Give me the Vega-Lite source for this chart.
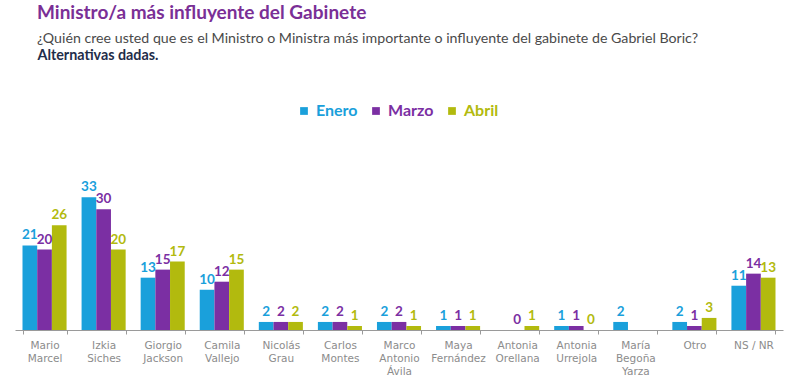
{
  "$schema": "https://vega.github.io/schema/vega-lite/v6.json",
  "width": 768,
  "height": 161,
  "autosize": {"type": "pad"},
  "padding": {"left": 15, "top": 3, "right": 2, "bottom": 4},
  "background": "white",
  "title": {
    "text": "Ministro/a más influyente del Gabinete",
    "subtitle": "¿Quién cree usted que es el Ministro o Ministra más importante o influyente del gabinete de Gabriel Boric?",
    "anchor": "start",
    "frame": "group",
    "dx": 22,
    "offset": 2,
    "font": "Lato",
    "fontSize": 19,
    "fontWeight": "bold",
    "color": "#7a2f96",
    "subtitleFont": "Lato",
    "subtitleFontSize": 14.2,
    "subtitleColor": "#4a4a4a",
    "subtitlePadding": 9
  },
  "data": {
    "values": [
      {"persona": "Mario|Marcel", "mes": "Enero", "pct": 21},
      {"persona": "Mario|Marcel", "mes": "Marzo", "pct": 20},
      {"persona": "Mario|Marcel", "mes": "Abril", "pct": 26},
      {"persona": "Izkia|Siches", "mes": "Enero", "pct": 33},
      {"persona": "Izkia|Siches", "mes": "Marzo", "pct": 30},
      {"persona": "Izkia|Siches", "mes": "Abril", "pct": 20},
      {"persona": "Giorgio|Jackson", "mes": "Enero", "pct": 13},
      {"persona": "Giorgio|Jackson", "mes": "Marzo", "pct": 15},
      {"persona": "Giorgio|Jackson", "mes": "Abril", "pct": 17},
      {"persona": "Camila|Vallejo", "mes": "Enero", "pct": 10},
      {"persona": "Camila|Vallejo", "mes": "Marzo", "pct": 12},
      {"persona": "Camila|Vallejo", "mes": "Abril", "pct": 15},
      {"persona": "Nicolás|Grau", "mes": "Enero", "pct": 2},
      {"persona": "Nicolás|Grau", "mes": "Marzo", "pct": 2},
      {"persona": "Nicolás|Grau", "mes": "Abril", "pct": 2},
      {"persona": "Carlos|Montes", "mes": "Enero", "pct": 2},
      {"persona": "Carlos|Montes", "mes": "Marzo", "pct": 2},
      {"persona": "Carlos|Montes", "mes": "Abril", "pct": 1},
      {"persona": "Marco|Antonio|Ávila", "mes": "Enero", "pct": 2},
      {"persona": "Marco|Antonio|Ávila", "mes": "Marzo", "pct": 2},
      {"persona": "Marco|Antonio|Ávila", "mes": "Abril", "pct": 1},
      {"persona": "Maya|Fernández", "mes": "Enero", "pct": 1},
      {"persona": "Maya|Fernández", "mes": "Marzo", "pct": 1},
      {"persona": "Maya|Fernández", "mes": "Abril", "pct": 1},
      {"persona": "Antonia|Orellana", "mes": "Enero", "pct": null},
      {"persona": "Antonia|Orellana", "mes": "Marzo", "pct": 0},
      {"persona": "Antonia|Orellana", "mes": "Abril", "pct": 1},
      {"persona": "Antonia|Urrejola", "mes": "Enero", "pct": 1},
      {"persona": "Antonia|Urrejola", "mes": "Marzo", "pct": 1},
      {"persona": "Antonia|Urrejola", "mes": "Abril", "pct": 0},
      {"persona": "María|Begoña|Yarza", "mes": "Enero", "pct": 2},
      {"persona": "María|Begoña|Yarza", "mes": "Marzo", "pct": null},
      {"persona": "María|Begoña|Yarza", "mes": "Abril", "pct": null},
      {"persona": "Otro", "mes": "Enero", "pct": 2},
      {"persona": "Otro", "mes": "Marzo", "pct": 1},
      {"persona": "Otro", "mes": "Abril", "pct": 3},
      {"persona": "NS / NR", "mes": "Enero", "pct": 11},
      {"persona": "NS / NR", "mes": "Marzo", "pct": 14},
      {"persona": "NS / NR", "mes": "Abril", "pct": 13}
    ]
  },
  "encoding": {
    "x": {
      "field": "persona",
      "type": "nominal",
      "sort": null,
      "scale": {"paddingInner": 0.254, "paddingOuter": 0.127}
    },
    "xOffset": {"field": "mes", "type": "nominal", "sort": ["Enero", "Marzo", "Abril"]},
    "y": {"field": "pct", "type": "quantitative", "scale": {"domain": [0, 40]}, "axis": null},
    "color": {
      "field": "mes",
      "type": "nominal",
      "sort": ["Enero", "Marzo", "Abril"],
      "scale": {"domain": ["Enero", "Marzo", "Abril"], "range": ["#1aa0db", "#7b2fa3", "#b2ba0e"]}
    }
  },
  "layer": [
    {
      "mark": {"type": "bar"},
      "encoding": {
        "x": {
          "field": "persona",
          "type": "nominal",
          "sort": null,
          "axis": {
            "title": null,
            "orient": "bottom",
            "labelAngle": 0,
            "labelExpr": "split(datum.label, '|')",
            "labelFont": "DejaVu Sans",
            "labelFontSize": 10.5,
            "labelColor": "#8c8c8c",
            "labelLineHeight": 13,
            "labelPadding": 6,
            "labelBaseline": "top",
            "domainColor": "#9a9a9a",
            "tickColor": "#9a9a9a",
            "tickSize": 4,
            "tickBand": "extent",
            "grid": false
          }
        },
        "color": {
          "field": "mes",
          "type": "nominal",
          "sort": ["Enero", "Marzo", "Abril"],
          "legend": {
            "orient": "none",
            "legendX": 281,
            "legendY": -66,
            "direction": "horizontal",
            "title": null,
            "symbolType": "square",
            "symbolSize": 60,
            "symbolStrokeWidth": 0,
            "labelFont": "Lato",
            "labelFontSize": 16,
            "labelFontWeight": "bold",
            "labelOffset": 4,
            "columnPadding": 10,
            "encode": {"labels": {"update": {"fill": {"scale": "color", "field": "value"}}}}
          }
        }
      }
    },
    {
      "mark": {"type": "text", "baseline": "bottom", "dy": -3, "font": "Lato", "fontSize": 13.5, "fontWeight": "bold"},
      "encoding": {
        "x": {
          "field": "persona",
          "type": "nominal",
          "sort": null,
          "axis": {
            "orient": "top",
            "labels": false,
            "ticks": false,
            "domain": false,
            "grid": false,
            "title": "Alternativas dadas.",
            "titleX": 22,
            "titleY": -110,
            "titleAlign": "left",
            "titleAnchor": "start",
            "titleBaseline": "alphabetic",
            "titleFont": "Lato",
            "titleFontSize": 14.3,
            "titleFontWeight": "bold",
            "titleColor": "#1f2d4a"
          }
        },
        "text": {"field": "pct", "type": "quantitative"},
        "color": {"field": "mes", "type": "nominal", "sort": ["Enero", "Marzo", "Abril"], "legend": null}
      }
    }
  ],
  "resolve": {"axis": {"x": "independent"}},
  "config": {"view": {"stroke": null}}
}
